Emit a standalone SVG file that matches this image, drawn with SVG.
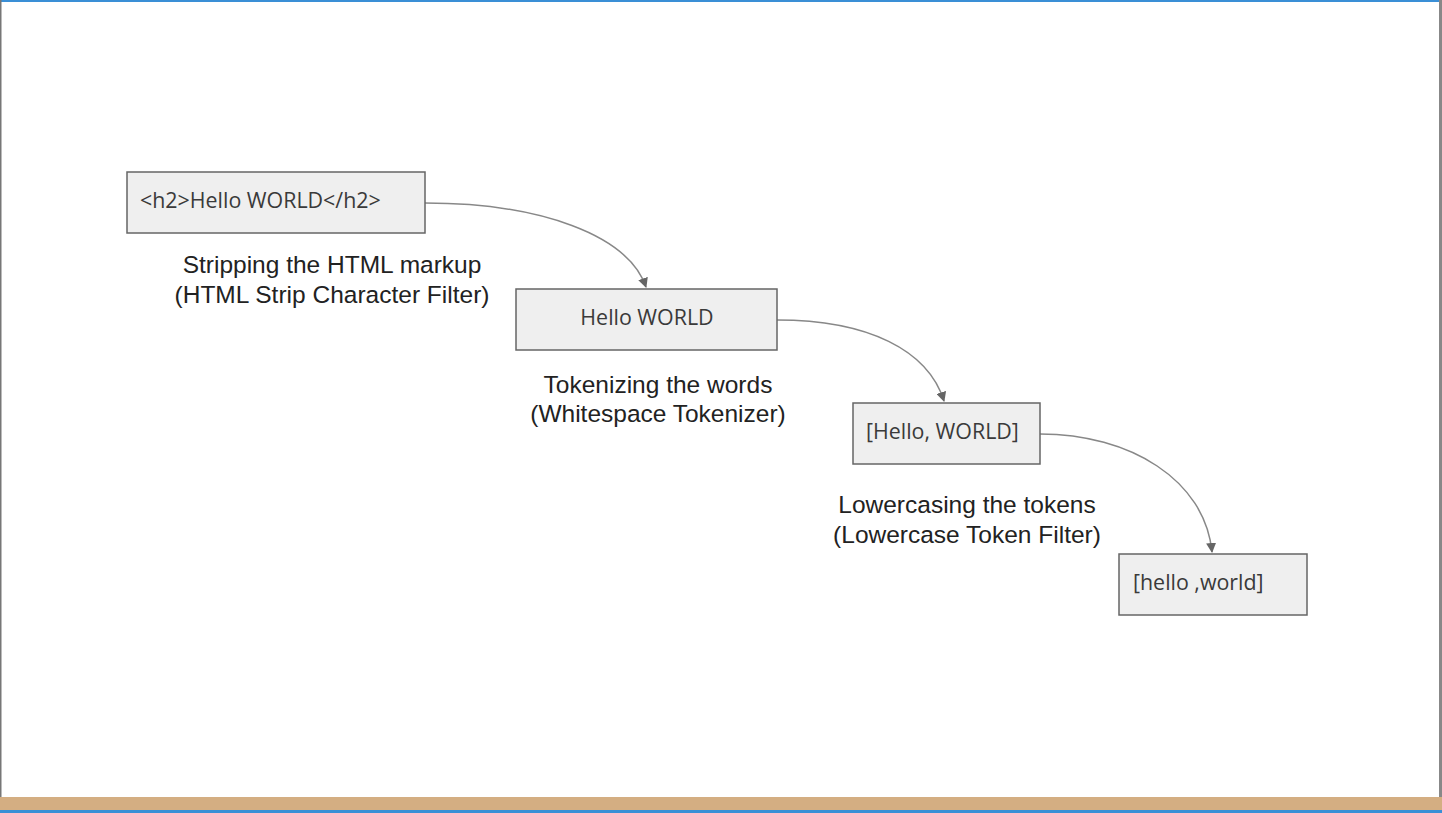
<svg xmlns="http://www.w3.org/2000/svg" width="1442" height="813" viewBox="0 0 1442 813">
<style>
.box{fill:#efefef;stroke:#666;stroke-width:1.5}
.bt{font-family:"Open Sans","Noto Sans",sans-serif;font-size:21.4px;fill:#3a3a3a}
.lb{font-family:"Liberation Sans",Arial,sans-serif;font-size:24.5px;fill:#222;text-anchor:middle}
.cn{fill:none;stroke:#888;stroke-width:1.5}
</style>
<defs>
<marker id="ah" markerWidth="10" markerHeight="10" refX="9" refY="5" orient="auto" markerUnits="userSpaceOnUse">
<path d="M0,0 L10,5 L0,10 z" fill="#666"/>
</marker>
</defs>
<rect x="0" y="0" width="1442" height="813" fill="#fff"/>
<rect x="0" y="0" width="1442" height="2" fill="#3a8fd6"/>
<rect x="0" y="0" width="1.5" height="800" fill="#777"/>
<rect x="1439" y="0" width="3" height="800" fill="#888"/>
<rect x="0" y="797" width="1442" height="14" fill="#d4ae82"/>
<rect x="0" y="810" width="1442" height="3" fill="#3a8fd6"/>
<g id="connectors">
<path class="cn" d="M425,203 C540,203 628,235 646,287" marker-end="url(#ah)"/>
<path class="cn" d="M777,320 C868,320 928,350 944,401" marker-end="url(#ah)"/>
<path class="cn" d="M1040,434 C1130,434 1205,480 1212,552" marker-end="url(#ah)"/>
</g>
<g id="n1">
<rect class="box" x="127" y="172" width="298" height="61"/>
<text class="bt" x="140" y="208">&lt;h2&gt;Hello WORLD&lt;/h2&gt;</text>
</g>
<g id="l1">
<text class="lb" x="332" y="273">Stripping the HTML markup</text>
<text class="lb" x="332" y="303">(HTML Strip Character Filter)</text>
</g>
<g id="n2">
<rect class="box" x="516" y="289" width="261" height="61"/>
<text class="bt" x="647" y="325" text-anchor="middle">Hello WORLD</text>
</g>
<g id="l2">
<text class="lb" x="658" y="393">Tokenizing the words</text>
<text class="lb" x="658" y="422">(Whitespace Tokenizer)</text>
</g>
<g id="n3">
<rect class="box" x="853" y="403" width="187" height="61"/>
<text class="bt" x="866" y="439">[Hello, WORLD]</text>
</g>
<g id="l3">
<text class="lb" x="967" y="513">Lowercasing the tokens</text>
<text class="lb" x="967" y="543">(Lowercase Token Filter)</text>
</g>
<g id="n4">
<rect class="box" x="1119" y="554" width="188" height="61"/>
<text class="bt" x="1133" y="590">[hello ,world]</text>
</g>
</svg>
